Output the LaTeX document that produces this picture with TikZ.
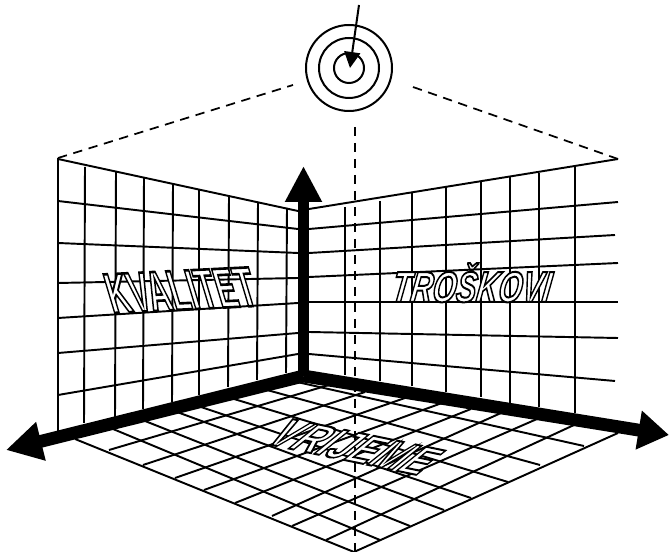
\documentclass[tikz,border=0pt]{standalone}
\usepackage{fontspec}
\setmainfont{Liberation Sans}
\usetikzlibrary{arrows.meta}
\newcommand{\outltext}[1]{\special{pdf:code q 2 Tr 0.46 w 1 1 1 rg 0 0 0 RG}#1\special{pdf:code Q}}

\begin{document}
\begin{tikzpicture}[
  x=0.75pt,y=-0.75pt,
  gridln/.style={draw=black,line width=1.45pt},
  dashln/.style={draw=black,line width=1.3pt,dash pattern=on 7pt off 5pt},
  ring/.style={draw=black,line width=1.5pt},
  axisln/.style={draw=black,line width=9.6pt,line join=miter},
  word/.style={inner sep=0pt,anchor=base west,font=\fontsize{10}{12}\bfseries,transform shape}
]
\useasboundingbox (0,0) rectangle (669,552);
\coordinate (org) at (303.5,376);

% floor grid
\foreach \xa/\ya/\xb/\yb in {75/439/354/552, 113/429/380/540, 145/421/410/526, 177/412/444/510,
    201/407/471/498, 234/399/508/482, 267/390/540/465, 297/382/584/446}
  { \draw[gridln] (\xa,\ya) -- (\xb,\yb); }
\foreach \xa/\ya/\xb/\yb in {618/433/354/552, 574/425/326/540, 537/419/292/526, 501/413/272/516,
    471/409/235/503, 442/403/204/490, 405/398/175/478, 365/392/143/465, 329/385/109/450}
  { \draw[gridln] (\xa,\ya) -- (\xb,\yb); }

% left wall
\foreach \xa/\ya/\xb/\yb in {58/158/58/432, 85/167/84/423, 116/172/115/417, 144/178/143/409,
    173/184/172/402, 199/190/199/395, 229/197/228/387, 258/202/257/380, 287/208/286/373}
  { \draw[gridln] (\xa,\ya) -- (\xb,\yb); }
\foreach \ya/\yb in {159/211, 201/229, 243/253, 283/278, 318/303, 353/333, 395/354}
  { \draw[gridln] (58,\ya) -- (298,\yb); }

% right wall
\foreach \xa/\ya/\xb/\yb in {345/207/345/375, 380/201/380/381, 412/193/412/386, 446/186/446/392,
    481/182/481/397, 510/177/510/403, 539/173/539/407, 575/167/575/413}
  { \draw[gridln] (\xa,\ya) -- (\xb,\yb); }
\foreach \ya/\xb/\yb in {209/618/159, 229/618/202, 253/615/235, 277/618/263, 302/618/302,
    332/618/338, 354/615/381}
  { \draw[gridln] (309,\ya) -- (\xb,\yb); }

% dashed sight lines
\draw[dashln] (58,158) -- (293,85);
\draw[dashln] (618,159) -- (413,87);
\draw[dashln] (355,127) -- (355,552);

% target
\coordinate (aim) at (349,68);
\node[ring,circle,minimum size=64.5pt,inner sep=0pt] (outer) at (aim) {};
\node[ring,circle,minimum size=45pt,inner sep=0pt] (middle) at (aim) {};
\node[ring,circle,minimum size=22.5pt,inner sep=0pt] (inner) at (aim) {};
\coordinate (shot) at (359,5);
\draw[-{Triangle[length=12pt,width=12pt]},line width=1.5pt] (shot) -- (350,68);

% axes
\coordinate (up) at (303.5,166);
\coordinate (lft) at (6,450);
\coordinate (rgt) at (669,435);
\draw[axisln,line width=8.4pt,-{Triangle[length=27pt,width=26pt]}] (org) -- (up);
\draw[axisln,-{Triangle[length=27pt,width=28pt]}] (org) -- (lft);
\draw[axisln,-{Triangle[length=23pt,width=28pt]}] (org) -- (rgt);

% sheared labels
\node[word,cm={2.3,0.112,-1.257,4.19,(0,0)}] (kval) at (112,313) {\outltext{KVALITET}};
\node[word,font=\fontsize{10}{12}\bfseries\itshape,cm={2.28,0,0.47,3.25,(0,0)}] (tros) at (390,302) {\outltext{TROŠKOVI}};
\node[word,cm={2.65,-0.547,3.25,2.62,(0,0)}] (vrij) at (262,443) {\outltext{VRIJEME}};
\end{tikzpicture}
\end{document}
